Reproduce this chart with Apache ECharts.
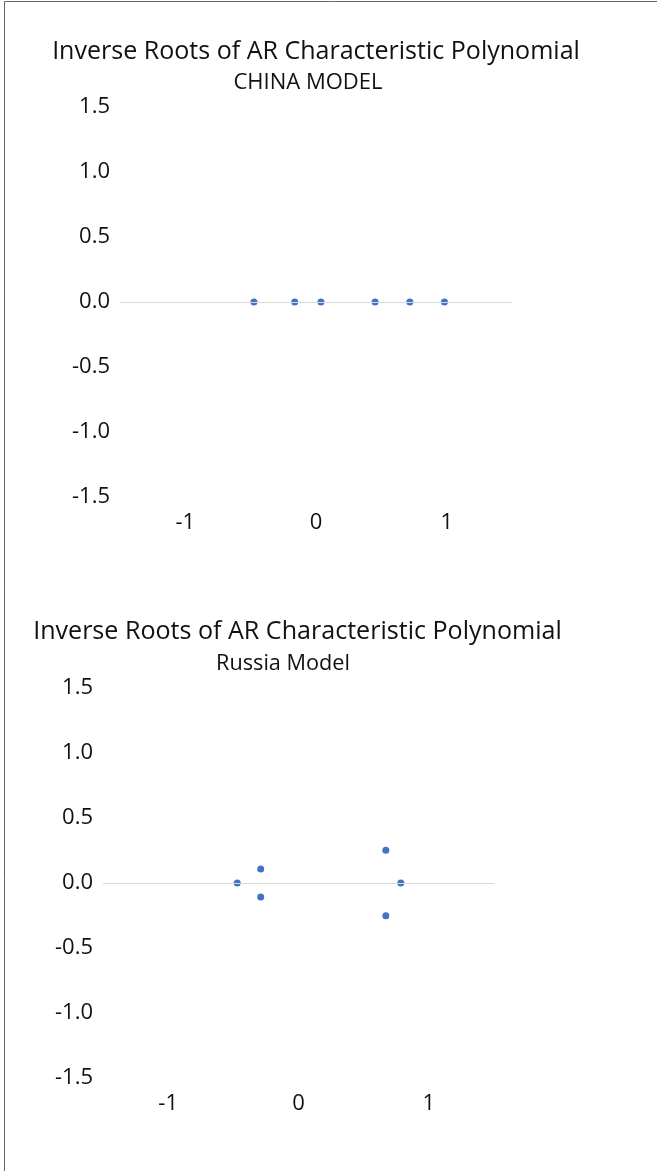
<!DOCTYPE html>
<html><head><meta charset="utf-8">
<script src="https://cdn.jsdelivr.net/npm/echarts@6/dist/echarts.min.js"></script>
<style>html,body{margin:0;padding:0;background:#fff}#c{width:657px;height:1171px}</style>
</head><body><div id="c"></div>
<script>
// ---- data ----
const chinaTitle = "Inverse Roots of AR Characteristic Polynomial";
const chinaSub = "CHINA MODEL";
const chinaReal = [-0.475, -0.163, 0.038, 0.452, 0.718, 0.983];
const chinaImag = [0, 0, 0, 0, 0, 0];

const russiaTitle = "Inverse Roots of AR Characteristic Polynomial";
const russiaSub = "Russia Model";
const russiaReal = [-0.47, -0.29, -0.29, 0.67, 0.785, 0.67];
const russiaImag = [0, 0.107, -0.107, 0.252, 0, -0.252];

const xTickValues = [-1, 0, 1];
const yMin = -1.5, yMax = 1.5, yStep = 0.5;
const xMin = -1.5, xMax = 1.5;

// ---- styling helpers ----
const FONT = "'Open Sans', 'Noto Sans', sans-serif";
const ctx = document.createElement('canvas').getContext('2d');
function fit(text, target) {
  ctx.font = "100px 'Open Sans'";
  return 100 * target / ctx.measureText(text).width;
}
const BLUE = '#4472C4';
const TXT = '#111';

function titleObj(text, cx, cy, target) {
  const fs = fit(text, target);
  return {
    text: text, left: cx, top: cy - fs / 2, textAlign: 'center', padding: 0,
    textStyle: { fontFamily: FONT, fontWeight: 'normal', fontSize: fs, lineHeight: fs, color: TXT }
  };
}

function pairs(re, im) { return re.map((v, i) => [v, im[i]]); }

const chart = echarts.init(document.getElementById('c'), null, { renderer: 'canvas' });

function xAxisCfg(gi) {
  return {
    gridIndex: gi, type: 'value', min: xMin, max: xMax, interval: 0.5,
    axisLine: { show: false }, axisTick: { show: false }, splitLine: { show: false },
    axisLabel: { customValues: xTickValues, margin: 15, fontFamily: FONT, fontSize: 22, color: TXT,
      formatter: v => String(v) }
  };
}
function yAxisCfg(gi) {
  return {
    gridIndex: gi, type: 'value', min: yMin, max: yMax, interval: yStep,
    axisLine: { show: false }, axisTick: { show: false }, splitLine: { show: false },
    axisLabel: { margin: 10, fontFamily: FONT, fontSize: 22, color: TXT,
      formatter: v => v.toFixed(1) }
  };
}
function seriesCfg(gi, data) {
  return {
    type: 'scatter', xAxisIndex: gi, yAxisIndex: gi, data: data,
    symbol: 'circle', symbolSize: 7, itemStyle: { color: BLUE, opacity: 1 },
    markLine: { silent: true, symbol: 'none', label: { show: false },
      lineStyle: { color: '#d9d9d9', width: 1, type: 'solid' },
      data: [{ yAxis: 0 }] }
  };
}

chart.setOption({
  animation: false,
  backgroundColor: '#fff',
  title: [
    titleObj(chinaTitle, 316, 52, 528),
    titleObj(chinaSub, 308, 83, 149),
    titleObj(russiaTitle, 297.5, 632, 529),
    titleObj(russiaSub, 283, 664, 134)
  ],
  grid: [
    { left: 120, right: 145, top: 107, height: 390 },
    { left: 103, right: 163, top: 688, height: 390 }
  ],
  xAxis: [xAxisCfg(0), xAxisCfg(1)],
  yAxis: [yAxisCfg(0), yAxisCfg(1)],
  series: [
    seriesCfg(0, pairs(chinaReal, chinaImag)),
    seriesCfg(1, pairs(russiaReal, russiaImag))
  ],
  graphic: [
    { type: 'line', silent: true, shape: { x1: 4.5, y1: 1.5, x2: 657, y2: 1.5 }, style: { stroke: '#666', lineWidth: 1 } },
    { type: 'line', silent: true, shape: { x1: 4.5, y1: 1.5, x2: 4.5, y2: 1171 }, style: { stroke: '#666', lineWidth: 1 } }
  ]
});
</script></body></html>
